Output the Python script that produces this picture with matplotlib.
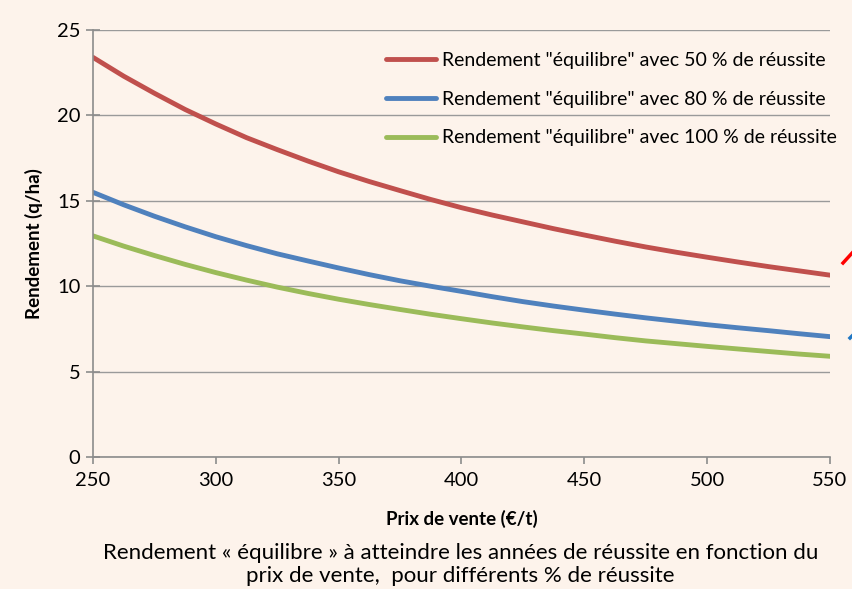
import matplotlib.pyplot as plt
from matplotlib.lines import Line2D

# Prix de vente (EUR/t) and rendement "équilibre" (q/ha)
prix = [250, 262.5, 275, 287.5, 300, 312.5, 325, 337.5, 350, 362.5, 375, 387.5, 400,
        412.5, 425, 437.5, 450, 462.5, 475, 487.5, 500, 512.5, 525, 537.5, 550]
rdt_50 = [23.4, 22.3, 21.3, 20.35, 19.5, 18.7, 18.0, 17.33, 16.7, 16.13, 15.6, 15.08, 14.6,
          14.17, 13.77, 13.37, 13.0, 12.64, 12.3, 11.99, 11.7, 11.42, 11.15, 10.9, 10.65]
rdt_80 = [15.5, 14.77, 14.1, 13.48, 12.9, 12.38, 11.9, 11.48, 11.07, 10.68, 10.32, 10.0, 9.7,
          9.39, 9.1, 8.84, 8.6, 8.37, 8.15, 7.95, 7.75, 7.57, 7.4, 7.22, 7.05]
rdt_100 = [12.95, 12.35, 11.8, 11.28, 10.8, 10.36, 9.95, 9.58, 9.24, 8.93, 8.64, 8.36, 8.1,
           7.85, 7.62, 7.4, 7.2, 6.99, 6.8, 6.64, 6.48, 6.33, 6.18, 6.03, 5.9]

labels = ['Rendement "équilibre" avec 50 % de réussite',
          'Rendement "équilibre" avec 80 % de réussite',
          'Rendement "équilibre" avec 100 % de réussite']
colors = ['#C0504D', '#4F81BD', '#9BBB59']

bg = '#FDF3EB'
plt.rcParams['font.family'] = ['Lato', 'DejaVu Sans']

fig = plt.figure(figsize=(8.53, 5.89), dpi=100, facecolor=bg)
ax = fig.add_axes([0.109, 0.224, 0.864, 0.725], facecolor=bg)

for y, c, lab in zip([rdt_50, rdt_80, rdt_100], colors, labels):
    ax.plot(prix, y, color=c, lw=3.5, label=lab, solid_capstyle='round')

ax.set_xlim(250, 550)
ax.set_ylim(0, 25)
ax.set_xticks(range(250, 551, 50))
ax.set_yticks(range(0, 26, 5))
ax.grid(axis='y', color='#9A9A9A', lw=1.0)
ax.set_axisbelow(True)
for s in ['top', 'right']:
    ax.spines[s].set_visible(False)
for s in ['left', 'bottom']:
    ax.spines[s].set_color('#8C8C8C')
    ax.spines[s].set_linewidth(1.2)
ax.tick_params(colors='#8C8C8C', labelcolor='black', labelsize=14.5, length=5, width=1.2, pad=6)
ax.tick_params(axis='y', direction='inout', length=10, pad=4)

ax.set_xlabel('Prix de vente (€/t)', fontsize=13.5, fontweight='bold', labelpad=15)
ax.set_ylabel('Rendement (q/ha)', fontsize=13.5, fontweight='bold', labelpad=10)

leg = ax.legend(loc='upper right', bbox_to_anchor=(1.033, 0.99), frameon=False,
                fontsize=14, handlelength=2.6, handletextpad=0.3, labelspacing=1.12)

fig.text(0.54, 0.042, 'Rendement « équilibre » à atteindre les années de réussite en fonction du\n'
         'prix de vente,  pour différents % de réussite',
         ha='center', va='center', fontsize=16, linespacing=1.2)

# fragments of arrows cut at the right edge of the screenshot
fig.add_artist(Line2D([843 / 853, 853 / 853], [1 - 263 / 589, 1 - 252 / 589], color='red', lw=2.5))
fig.add_artist(Line2D([850 / 853, 853 / 853], [1 - 338 / 589, 1 - 335 / 589], color='#1F77C4', lw=2.5))

fig.savefig('out.png', dpi=100, facecolor=bg)
